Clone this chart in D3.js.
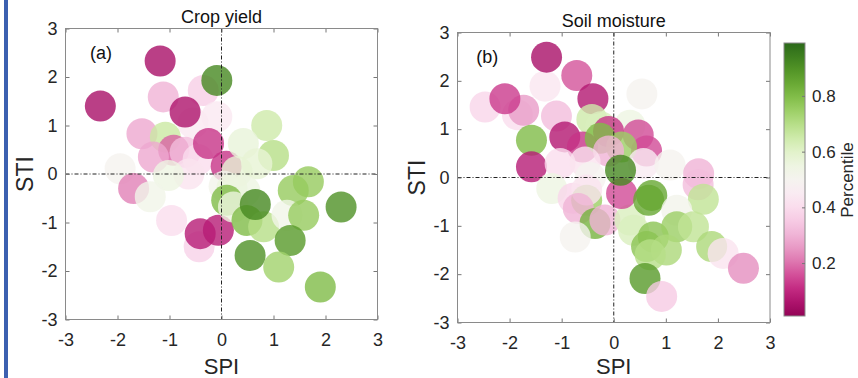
<!DOCTYPE html>
<html>
<head>
<meta charset="utf-8">
<script src="https://cdn.jsdelivr.net/npm/d3@7"></script>
<style>
  body { margin: 0; background: #fff; }
  svg { display: block; font-family: "Liberation Sans", Arial, sans-serif; }
  .tick text { fill: #262626; font-size: 18px; }
  .cbar .tick text { font-size: 17px; }
  .tick line { stroke: #777; }
</style>
</head>
<body>
<div id="chart"></div>
<script>
// panel (a) crop yield: SPI, STI, percentile
var aSpi = [-2.33, -1.18, -0.35, -1.12, -0.09, -0.55, -0.70, -1.53, -1.08, -0.92, -0.70, -1.31, -0.45, -0.25,
  -1.95, -0.63, -1.02, -1.69, -1.37, -0.96, -0.43, -0.41, -0.06, 0.09, -0.09,
  0.87, 0.42, 1.00, 0.68, 0.30, 0.05, 0.45, 0.20, 1.67, 1.38, 2.30, 0.10, 0.23, 0.49, 0.81, 1.26, 1.58, 0.65, 1.32, 0.55, 1.10, 1.90];
var aSti = [1.40, 2.33, 1.72, 1.59, 1.18, 1.05, 1.28, 0.83, 0.76, 0.49, 0.45, 0.35, 0.30, 0.63,
  0.11, 0.00, -0.03, -0.30, -0.47, -0.96, -1.50, -1.23, -1.16, 0.16, 1.93,
  1.00, 0.63, 0.38, 0.21, 0.05, -0.25, -0.35, -0.30, -0.16, -0.34, -0.68, -0.54, -0.68, -0.96, -1.09, -0.85, -0.85, -0.63, -1.37, -1.68, -1.92, -2.33];
var aPct = [0.05, 0.05, 0.36, 0.30, 0.44, 0.44, 0.06, 0.28, 0.66, 0.18, 0.32, 0.28, 0.40, 0.12,
  0.50, 0.42, 0.55, 0.22, 0.53, 0.40, 0.37, 0.08, 0.08, 0.12, 0.92,
  0.65, 0.57, 0.70, 0.58, 0.58, 0.52, 0.55, 0.56, 0.76, 0.76, 0.90, 0.80, 0.56, 0.80, 0.70, 0.53, 0.76, 0.92, 0.88, 0.90, 0.74, 0.80];

// panel (b) soil moisture
var bSpi = [-2.47, -1.85, -1.73, -2.09, -1.32, -1.29, -0.71, 0.54, -0.40, -1.10, -0.42, -0.25, 0.31, -0.10,
  -1.58, -0.94, -0.60, 0.47, 0.63, -0.26, 0.15, -0.10, -1.58, -1.03, -0.55, 0.57, 1.08, 1.63, 1.62,
  -1.19, -0.45, -0.78, -0.52, -0.52, -0.68, -0.36, -0.17, -0.74, 0.31, 0.38, 0.15, 0.13,
  0.67, 0.73, 1.72, 1.21, 0.76, 1.21, 1.53, 0.63, 1.01, 0.70, 1.88, 2.10, 2.49, 0.60, 0.92];
var bSti = [1.46, 1.30, 1.39, 1.63, 1.89, 2.49, 2.11, 1.73, 1.63, 1.27, 1.20, 1.05, 1.08, 0.95,
  0.77, 0.84, 0.63, 0.88, 0.55, 0.81, 0.63, 0.55, 0.22, 0.29, 0.32, 0.29, 0.26, 0.08, -0.15,
  -0.23, 0.00, -0.43, -0.47, -0.26, -0.64, -0.95, -0.88, -1.23, -0.88, -1.09, -0.33, 0.15,
  -0.47, -0.37, -0.45, -0.68, -1.23, -1.02, -1.02, -1.43, -1.50, -1.60, -1.43, -1.57, -1.88, -2.09, -2.46];
var bPct = [0.38, 0.40, 0.26, 0.13, 0.43, 0.05, 0.16, 0.50, 0.07, 0.32, 0.65, 0.62, 0.55, 0.12,
  0.80, 0.07, 0.12, 0.15, 0.15, 0.80, 0.75, 0.30, 0.08, 0.40, 0.42, 0.45, 0.50, 0.30, 0.32,
  0.55, 0.50, 0.38, 0.75, 0.42, 0.30, 0.82, 0.30, 0.50, 0.62, 0.62, 0.15, 0.92,
  0.85, 0.85, 0.68, 0.52, 0.78, 0.75, 0.68, 0.78, 0.72, 0.70, 0.72, 0.42, 0.24, 0.88, 0.35];

var axisTicks = [-3, -2, -1, 0, 1, 2, 3];
var barTicks = [0.2, 0.4, 0.6, 0.8];
var barDomain = [0.01, 0.99];

var W = 858, H = 378;
var svg = d3.select('#chart').append('svg')
  .attr('width', W)
  .attr('height', H);

// blue strip at the left edge
svg.append('rect')
  .attr('x', 4).attr('y', 0)
  .attr('width', 4).attr('height', H)
  .attr('fill', '#3c60b0');

var color = d3.scaleSequential(d3.interpolatePiYG).domain([0, 1]);

function drawPanel(box, spi, sti, pct, title, tag, tagPos) {
  var x = d3.scaleLinear().domain([-3, 3]).range([box.left, box.right]);
  var y = d3.scaleLinear().domain([-3, 3]).range([box.bottom, box.top]);
  var fmt = function(d) { return String(d); };
  var g = svg.append('g');

  var pts = spi.map(function(d, i) { return {x: d, y: sti[i], p: pct[i]}; });

  g.append('g')
    .selectAll('circle')
    .data(pts)
    .enter().append('circle')
      .attr('cx', function(d) { return x(d.x); })
      .attr('cy', function(d) { return y(d.y); })
      .attr('r', 15.5)
      .attr('fill', function(d) { return color(d.p); })
      .attr('fill-opacity', 0.8);

  // dash-dot zero lines
  g.append('line')
    .attr('x1', x(0)).attr('x2', x(0))
    .attr('y1', y(3)).attr('y2', y(-3))
    .attr('stroke', '#222').attr('stroke-width', 1)
    .attr('stroke-dasharray', '4,2,1,2');
  g.append('line')
    .attr('x1', x(-3)).attr('x2', x(3))
    .attr('y1', y(0)).attr('y2', y(0))
    .attr('stroke', '#222').attr('stroke-width', 1)
    .attr('stroke-dasharray', '4,2,1,2');

  // axes with inward ticks on all four sides
  g.append('g').attr('transform', 'translate(0,' + box.bottom + ')')
    .call(d3.axisBottom(x).tickValues(axisTicks).tickFormat(fmt).tickSizeInner(-4).tickSizeOuter(0).tickPadding(14));
  g.append('g').attr('transform', 'translate(' + box.left + ',0)')
    .call(d3.axisLeft(y).tickValues(axisTicks).tickFormat(fmt).tickSizeInner(-4).tickSizeOuter(0).tickPadding(8));
  g.append('g').attr('transform', 'translate(0,' + box.top + ')')
    .call(d3.axisTop(x).tickValues(axisTicks).tickFormat('').tickSizeInner(-4).tickSizeOuter(0));
  g.append('g').attr('transform', 'translate(' + box.right + ',0)')
    .call(d3.axisRight(y).tickValues(axisTicks).tickFormat('').tickSizeInner(-4).tickSizeOuter(0));
  g.selectAll('.domain').remove();

  g.append('rect')
    .attr('x', box.left).attr('y', box.top)
    .attr('width', box.right - box.left).attr('height', box.bottom - box.top)
    .attr('fill', 'none').attr('stroke', '#8a8a8a').attr('stroke-width', 1);

  g.append('text')
    .attr('x', (box.left + box.right) / 2).attr('y', box.top - 6)
    .attr('text-anchor', 'middle')
    .style('font-size', '18px').attr('fill', '#111')
    .text(title);

  g.append('text')
    .attr('x', x(tagPos[0])).attr('y', y(tagPos[1]))
    .style('font-size', '18px').attr('fill', '#111')
    .text(tag);

  g.append('text')
    .attr('x', (box.left + box.right) / 2).attr('y', Math.min(box.bottom + 55, 374))
    .attr('text-anchor', 'middle')
    .style('font-size', '22px').attr('fill', '#262626')
    .text('SPI');

  g.append('text')
    .attr('transform', 'translate(' + (box.left - 33) + ',' + ((box.top + box.bottom) / 2) + ') rotate(-90)')
    .attr('text-anchor', 'middle')
    .style('font-size', '23px').attr('fill', '#262626')
    .text('STI');
}

drawPanel({left: 65.5, right: 377.5, top: 28.5, bottom: 319.5}, aSpi, aSti, aPct, 'Crop yield', '(a)', [-2.53, 2.37]);
drawPanel({left: 457.5, right: 770, top: 32.5, bottom: 322.5}, bSpi, bSti, bPct, 'Soil moisture', '(b)', [-2.64, 2.37]);

// colorbar
var cb = {left: 784, width: 21, top: 43, bottom: 316};
var cy = d3.scaleLinear().domain(barDomain).range([cb.bottom, cb.top]);
var grad = svg.append('defs').append('linearGradient')
  .attr('id', 'cbar').attr('x1', 0).attr('x2', 0).attr('y1', 1).attr('y2', 0);
d3.range(0, 1.0001, 0.05).forEach(function(t) {
  var v = barDomain[0] + t * (barDomain[1] - barDomain[0]);
  grad.append('stop').attr('offset', t).attr('stop-color', color(v));
});
svg.append('rect')
  .attr('x', cb.left).attr('y', cb.top)
  .attr('width', cb.width).attr('height', cb.bottom - cb.top)
  .attr('fill', 'url(#cbar)')
  .attr('stroke', '#8a8a8a').attr('stroke-width', 1);
svg.append('g')
  .attr('class', 'cbar')
  .attr('transform', 'translate(' + (cb.left + cb.width) + ',0)')
  .call(d3.axisRight(cy).tickValues(barTicks).tickFormat(d3.format('.1f')).tickSizeInner(-3).tickSizeOuter(0).tickPadding(7))
  .select('.domain').remove();
svg.append('text')
  .attr('transform', 'translate(853,180) rotate(-90)')
  .attr('text-anchor', 'middle')
  .style('font-size', '17px').attr('fill', '#262626')
  .text('Percentile');
</script>
</body>
</html>
